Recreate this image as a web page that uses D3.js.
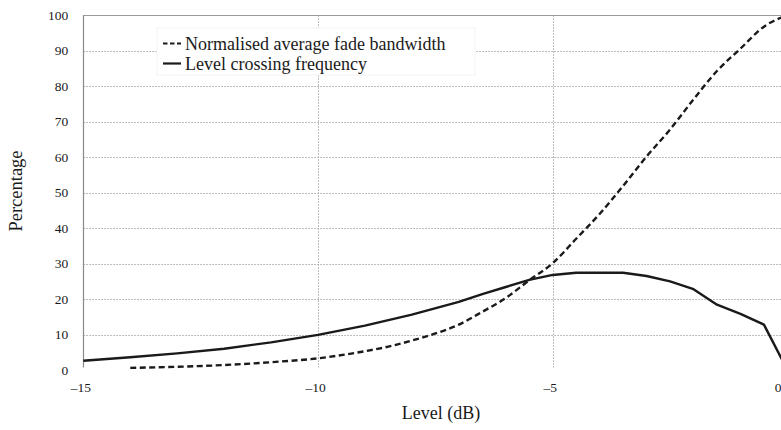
<!DOCTYPE html>
<html>
<head>
<meta charset="utf-8">
<script src="https://cdn.jsdelivr.net/npm/d3@7"></script>
<style>
  html, body { margin: 0; padding: 0; background: #fff; }
  svg { display: block; }
</style>
</head>
<body>
<div id="chart"></div>
<script>
// ---- data ----
const xTicks = [-15, -10, -5, 0];
const xTickLabels = ["\u201315", "\u201310", "\u20135", "0"];
const yTicks = [0, 10, 20, 30, 40, 50, 60, 70, 80, 90, 100];

const fadeLevels = [-14, -13, -12, -11, -10, -9, -8.5, -8, -7.5, -7, -6.5, -6, -5.5, -5, -4.5, -4, -3.5, -3, -2.5, -2, -1.5, -1, -0.5, 0];
const fadeBandwidth = [0.6, 0.9, 1.4, 2.2, 3.3, 5.3, 6.6, 8.3, 10.3, 12.8, 16.4, 20.3, 25.3, 30.1, 37, 44, 51.9, 60.2, 67.8, 76.3, 84.3, 90.6, 96.8, 100];

const lcfLevels = [-15, -14, -13, -12, -11, -10, -9, -8, -7, -6.5, -6, -5.5, -5, -4.5, -4, -3.5, -3, -2.5, -2, -1.5, -1, -0.5, 0];
const lcfValues = [2.6, 3.6, 4.7, 6.0, 7.8, 9.9, 12.5, 15.6, 19.2, 21.4, 23.4, 25.4, 26.8, 27.4, 27.4, 27.4, 26.5, 25.0, 22.8, 18.4, 15.8, 12.8, 0];

const legendLabels = ["Normalised average fade bandwidth", "Level crossing frequency"];

// ---- layout ----
const SERIF = "'Liberation Serif', 'Times New Roman', serif";
const W = 781, H = 430;
const svg = d3.select("#chart").append("svg").attr("width", W).attr("height", H);
svg.append("rect").attr("width", W).attr("height", H).attr("fill", "#fff");

const x = d3.scaleLinear().domain([-15, 0]).range([83.3, 787.4]);
const y = d3.scaleLinear().domain([0, 100]).range([370, 15.3]);

// horizontal gridlines
svg.append("g").selectAll("line").data(yTicks.filter(d => d > 0 && d < 100)).join("line")
  .attr("x1", x(-15)).attr("x2", W)
  .attr("y1", d => Math.round(y(d)) + 0.5).attr("y2", d => Math.round(y(d)) + 0.5)
  .attr("stroke", "#a8a8a8").attr("stroke-width", 1).attr("stroke-dasharray", "1.5,1.5");

// vertical gridlines
svg.append("g").selectAll("line").data(xTicks.filter(d => d > -15)).join("line")
  .attr("x1", d => Math.round(x(d)) + 0.5).attr("x2", d => Math.round(x(d)) + 0.5)
  .attr("y1", y(100)).attr("y2", 367.5)
  .attr("stroke", "#a8a8a8").attr("stroke-width", 1).attr("stroke-dasharray", "1.5,1.5");

// top border
svg.append("line")
  .attr("x1", x(-15)).attr("x2", W).attr("y1", Math.round(y(100)) + 0.5).attr("y2", Math.round(y(100)) + 0.5)
  .attr("stroke", "#9a9a9a").attr("stroke-width", 1);
// left axis line
svg.append("line")
  .attr("x1", Math.round(x(-15)) + 0.5).attr("x2", Math.round(x(-15)) + 0.5)
  .attr("y1", y(100)).attr("y2", 367.5)
  .attr("stroke", "#8a8a8a").attr("stroke-width", 1.2);

// y tick labels
const yAxis = d3.axisLeft(y).tickValues(yTicks).tickSize(0).tickPadding(15).tickFormat(d3.format("d"));
const gy = svg.append("g").attr("transform", `translate(${x(-15)},0)`).call(yAxis);
gy.select(".domain").remove();
gy.attr("font-family", null);
gy.selectAll("text").style("font-family", SERIF).style("font-size", "13.5px").style("fill", "#1a1a1a").attr("dy", "0.3em");

// x tick labels
const xAxis = d3.axisBottom(x).tickValues(xTicks).tickSize(0).tickPadding(14)
  .tickFormat((d, i) => xTickLabels[i]);
const gx = svg.append("g").attr("transform", `translate(-3,${y(0) - 2})`).call(xAxis);
gx.select(".domain").remove();
gx.attr("font-family", null);
gx.selectAll("text").style("font-family", SERIF).style("font-size", "13.5px").style("fill", "#1a1a1a");
// keep the last label (0) inside the page edge
gx.selectAll(".tick").filter(d => d === 0).select("text").attr("text-anchor", "end").attr("x", W + 3 - x(0));

// axis titles
svg.append("text").attr("x", 441).attr("y", 419).attr("text-anchor", "middle")
  .style("font-family", SERIF).style("font-size", "18px").style("fill", "#1a1a1a").text("Level (dB)");
svg.append("text").attr("transform", "translate(22,191) rotate(-90)").attr("text-anchor", "middle")
  .style("font-family", SERIF).style("font-size", "18.5px").style("fill", "#1a1a1a").text("Percentage");

// lines
const fadeData = fadeLevels.map((l, i) => [l, fadeBandwidth[i]]);
const lcfData = lcfLevels.map((l, i) => [l, lcfValues[i]]);

svg.append("path").datum(fadeData)
  .attr("fill", "none").attr("stroke", "#1a1a1a").attr("stroke-width", 2.4)
  .attr("stroke-dasharray", "6,3.5")
  .attr("d", d3.line().x(d => x(d[0])).y(d => y(d[1])).curve(d3.curveMonotoneX));

svg.append("path").datum(lcfData)
  .attr("fill", "none").attr("stroke", "#1a1a1a").attr("stroke-width", 2.4)
  .attr("stroke-linejoin", "round")
  .attr("d", d3.line().x(d => x(d[0])).y(d => y(d[1])));

// legend
const lg = svg.append("g");
lg.append("rect").attr("x", 157).attr("y", 28).attr("width", 318).attr("height", 47)
  .attr("fill", "#fff").attr("stroke", "#f3f3f3").attr("stroke-width", 1);
const legendDash = ["4.5,2.5", null];
legendLabels.forEach((lab, i) => {
  const cy = 43.5 + i * 20;
  lg.append("line").attr("x1", 163).attr("x2", 181).attr("y1", cy).attr("y2", cy)
    .attr("stroke", "#1a1a1a").attr("stroke-width", 2.2)
    .attr("stroke-dasharray", legendDash[i]);
  lg.append("text").attr("x", 185).attr("y", cy + 6.5)
    .style("font-family", SERIF).style("font-size", "18px").style("fill", "#1a1a1a").text(lab);
});
</script>
</body>
</html>
